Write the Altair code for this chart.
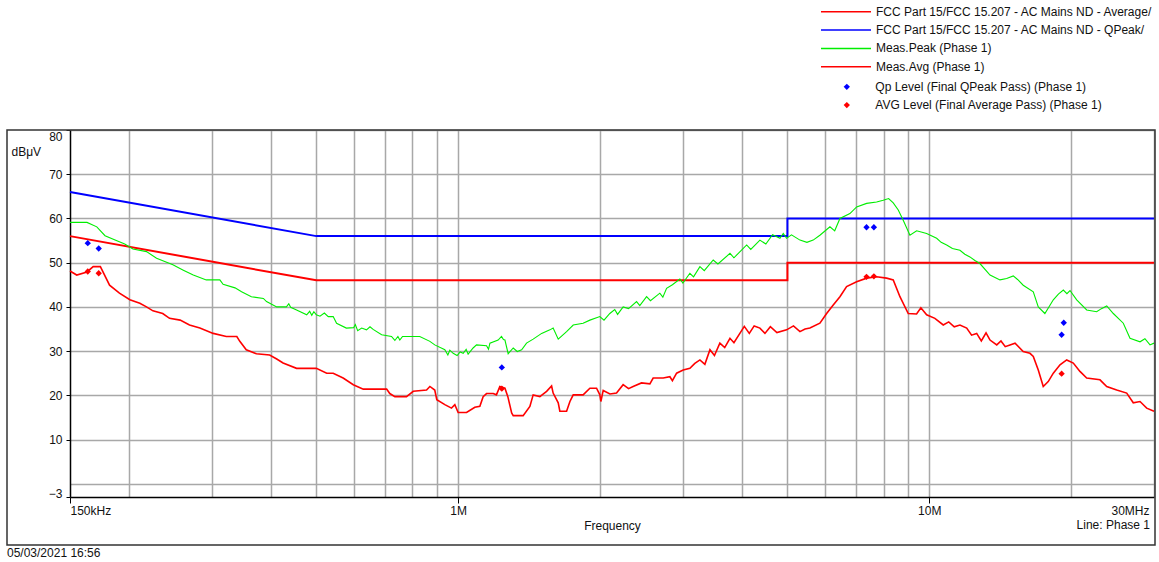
import altair as alt
import pandas as pd

# ---------------- data (frequency in MHz, level in dBuV) ----------------
avg_limit_f = [0.15, 0.5, 5.0, 5.0, 30.0]
avg_limit_v = [56, 46, 46, 50, 50]
qp_limit_f = [0.15, 0.5, 5.0, 5.0, 30.0]
qp_limit_v = [66, 56, 56, 60, 60]

peak_f = [0.150, 0.163, 0.171, 0.178, 0.187, 0.196, 0.204, 0.218, 0.229, 0.248, 0.261, 0.274,
          0.292, 0.312, 0.317, 0.336, 0.347, 0.364, 0.386, 0.392, 0.412, 0.432, 0.437, 0.441,
          0.454, 0.477, 0.484, 0.489, 0.494, 0.500, 0.509, 0.520, 0.530, 0.543, 0.552, 0.579,
          0.600, 0.605, 0.612, 0.624, 0.639, 0.650, 0.660, 0.688, 0.722, 0.734, 0.745, 0.752,
          0.762, 0.777, 0.829, 0.871, 0.892, 0.937, 0.951, 0.960, 0.976, 0.995, 1.010, 1.025,
          1.040, 1.050, 1.076, 1.094, 1.149, 1.160, 1.168, 1.216, 1.236, 1.248, 1.257, 1.277,
          1.309, 1.335, 1.364, 1.397, 1.443, 1.504, 1.566, 1.591, 1.631, 1.699, 1.755, 1.842,
          1.904, 1.999, 2.040, 2.099, 2.150, 2.180, 2.240, 2.300, 2.392, 2.430, 2.512, 2.560,
          2.680, 2.720, 2.770, 2.850, 2.956, 3.000, 3.104, 3.160, 3.260, 3.330, 3.479, 3.560,
          3.776, 3.850, 4.097, 4.180, 4.371, 4.500, 4.650, 4.820, 4.900, 4.980, 5.100, 5.316,
          5.500, 5.671, 5.860, 6.155, 6.300, 6.463, 6.786, 7.013, 7.364, 7.732, 7.986, 8.200,
          8.387, 8.595, 8.806, 9.100, 9.402, 9.874, 10.37, 10.60, 10.89, 11.20, 11.62, 11.90,
          12.20, 12.50, 12.81, 13.46, 14.13, 14.60, 15.08, 15.40, 15.83, 16.63, 17.04, 17.60,
          18.34, 18.80, 19.26, 19.60, 19.90, 20.56, 21.59, 22.67, 23.20, 23.81, 24.59, 25.82,
          26.68, 28.02, 28.70, 29.42, 30.00]
peak_v = [59.1, 59.1, 58.1, 56.1, 55.1, 54.2, 53.1, 52.5, 51.0, 49.5, 48.3, 47.2,
          46.1, 46.1, 45.1, 44.3, 43.4, 42.3, 41.9, 41.2, 40.0, 40.0, 40.7, 39.9,
          39.3, 38.2, 39.0, 38.1, 38.9, 38.2, 37.9, 38.6, 37.8, 37.8, 36.3, 35.2,
          35.3, 36.0, 34.6, 35.2, 34.8, 35.5, 34.9, 33.7, 33.3, 32.4, 33.3, 32.5,
          33.3, 33.3, 33.3, 32.2, 31.4, 30.3, 29.1, 30.2, 29.5, 29.0, 29.8, 29.5,
          30.4, 29.3, 30.7, 31.4, 31.2, 30.4, 31.8, 32.5, 33.3, 32.6, 32.5, 29.4,
          30.7, 29.9, 30.3, 31.8, 32.7, 34.0, 34.8, 35.2, 32.7, 34.4, 35.9, 36.3,
          37.0, 37.8, 37.0, 38.5, 39.4, 38.3, 40.0, 39.6, 41.2, 40.3, 42.3, 41.4,
          43.1, 42.2, 44.2, 45.0, 46.3, 45.4, 47.6, 46.8, 49.1, 48.2, 50.6, 49.7,
          52.1, 51.1, 54.0, 53.0, 55.1, 54.2, 56.3, 55.5, 56.6, 55.5, 56.3, 55.1,
          54.6, 55.1, 56.2, 58.1, 57.2, 60.0, 61.1, 62.6, 63.4, 63.7, 64.1, 64.5,
          63.5, 61.9, 59.6, 56.2, 57.2, 56.6, 55.5, 54.6, 54.0, 53.2, 52.8, 51.9,
          51.3, 50.5, 49.8, 47.2, 46.1, 46.4, 47.0, 46.2, 44.9, 43.4, 40.0, 38.5,
          41.6, 42.9, 43.8, 43.0, 43.7, 41.6, 39.3, 38.9, 39.6, 40.2, 38.5, 36.3,
          32.9, 32.1, 32.8, 31.4, 31.8]

avg_f = [0.150, 0.155, 0.163, 0.168, 0.174, 0.182, 0.191, 0.201, 0.211, 0.218, 0.225, 0.236,
         0.244, 0.257, 0.269, 0.283, 0.302, 0.322, 0.339, 0.344, 0.355, 0.373, 0.398, 0.412,
         0.425, 0.454, 0.500, 0.526, 0.543, 0.570, 0.599, 0.629, 0.705, 0.716, 0.734, 0.777,
         0.803, 0.857, 0.871, 0.892, 0.901, 0.937, 0.968, 0.984, 1.000, 1.042, 1.085, 1.112,
         1.130, 1.149, 1.187, 1.206, 1.226, 1.257, 1.275, 1.299, 1.309, 1.374, 1.420, 1.443,
         1.491, 1.541, 1.579, 1.591, 1.631, 1.644, 1.699, 1.727, 1.755, 1.842, 1.904, 1.967,
         1.999, 2.009, 2.032, 2.100, 2.169, 2.240, 2.300, 2.352, 2.450, 2.553, 2.594, 2.724,
         2.815, 2.850, 2.909, 3.004, 3.104, 3.180, 3.260, 3.340, 3.424, 3.500, 3.594, 3.680,
         3.776, 3.850, 3.963, 4.050, 4.150, 4.250, 4.371, 4.480, 4.600, 4.750, 4.980, 5.150,
         5.316, 5.450, 5.581, 5.860, 6.056, 6.255, 6.463, 6.677, 7.013, 7.364, 7.732, 8.119,
         8.387, 8.666, 9.025, 9.400, 9.600, 9.874, 10.28, 10.71, 11.00, 11.30, 11.62, 12.01,
         12.30, 12.61, 12.90, 13.20, 13.46, 13.91, 14.20, 14.50, 14.84, 15.21, 15.83, 16.36,
         16.63, 17.04, 17.46, 17.89, 18.34, 18.95, 19.58, 20.22, 20.89, 21.59, 23.04, 23.81,
         25.00, 26.25, 27.11, 28.02, 28.95, 30.00]
avg_v = [48.1, 47.2, 47.9, 49.1, 49.1, 44.9, 43.1, 41.6, 40.8, 40.0, 39.1, 38.5,
         37.4, 37.0, 35.9, 35.2, 34.0, 33.3, 33.3, 32.2, 30.3, 29.4, 29.1, 28.2,
         27.3, 26.1, 26.1, 25.0, 25.0, 23.9, 22.4, 21.4, 21.4, 20.4, 19.7, 19.7,
         20.9, 21.2, 22.0, 21.2, 19.0, 17.9, 17.1, 17.9, 16.1, 16.1, 17.3, 17.5,
         19.7, 20.4, 20.4, 20.1, 22.0, 21.6, 19.7, 16.0, 15.4, 15.4, 17.5, 20.1,
         19.7, 20.9, 22.1, 20.5, 18.3, 16.4, 16.4, 18.6, 20.1, 20.1, 21.6, 21.6,
         20.1, 18.6, 21.1, 20.3, 20.5, 22.4, 21.5, 22.0, 22.8, 22.6, 23.9, 23.9,
         24.2, 23.3, 25.0, 25.7, 26.1, 27.2, 28.0, 27.0, 30.3, 29.0, 31.8, 30.8,
         32.9, 31.9, 34.0, 35.6, 34.0, 35.7, 35.2, 34.0, 35.5, 34.2, 34.8, 35.7,
         34.4, 35.0, 35.2, 36.3, 38.5, 40.4, 42.3, 44.6, 45.7, 46.5, 46.8, 46.5,
         46.1, 42.3, 38.5, 38.4, 39.8, 38.2, 37.4, 35.9, 36.6, 35.5, 35.9, 35.2,
         33.6, 34.0, 32.3, 34.1, 32.5, 31.4, 32.3, 31.0, 31.4, 31.8, 29.9, 29.5,
         28.8, 25.7, 22.0, 23.1, 25.0, 26.9, 28.0, 27.3, 25.4, 23.9, 23.5, 22.0,
         21.2, 20.5, 18.3, 18.6, 17.1, 16.4]

qp_pts_f = [0.1636, 0.1726, 1.238, 7.36, 7.63, 19.3, 19.1]
qp_pts_v = [54.4, 53.2, 26.3, 58.0, 58.0, 36.4, 33.7]
av_pts_f = [0.1636, 0.1726, 1.238, 7.36, 7.63, 19.1]
av_pts_v = [48.0, 47.6, 21.5, 46.8, 46.9, 24.9]

line_names = ["FCC Part 15/FCC 15.207 - AC Mains ND - Average/",
              "FCC Part 15/FCC 15.207 - AC Mains ND - QPeak/",
              "Meas.Peak (Phase 1)",
              "Meas.Avg (Phase 1)"]
line_colors = ["#ff0000", "#0000ff", "#00ee00", "#ff0000"]
pt_names = ["Qp Level (Final QPeak Pass) (Phase 1)",
            "AVG Level (Final Average Pass) (Phase 1)"]
pt_colors = ["#0000ff", "#ff0000"]

grid_x = [0.15, 0.2, 0.3, 0.4, 0.5, 0.6, 0.7, 0.8, 0.9, 1, 2, 3, 4, 5, 6, 7, 8, 9, 10, 20, 30]
grid_y = [-3, 0, 10, 20, 30, 40, 50, 60, 70, 80]

# ---------------- tables ----------------
def series_df(fs, vs, name):
    return pd.DataFrame({"freq": fs, "level": vs, "series": name, "idx": list(range(len(fs)))})

limits_df = pd.concat([series_df(avg_limit_f, avg_limit_v, line_names[0]),
                       series_df(qp_limit_f, qp_limit_v, line_names[1])])
peak_df = series_df(peak_f, peak_v, line_names[2])
avg_df = series_df(avg_f, avg_v, line_names[3])
pts_df = pd.concat([
    pd.DataFrame({"freq": qp_pts_f, "level": qp_pts_v, "kind": pt_names[0]}),
    pd.DataFrame({"freq": av_pts_f, "level": av_pts_v, "kind": pt_names[1]}),
])

W, H = 1084, 367
FONT = "Liberation Sans"
GRID = "#a8a8a8"

x_axis = alt.Axis(
    values=grid_x,
    labelExpr="datum.value == 0.15 ? '150kHz' : datum.value == 1 ? '1M' : datum.value == 10 ? '10M' : datum.value == 30 ? '30MHz' : ''",
    labelFlush=True,
    labelOffset={"condition": {"test": "datum.value == 30", "value": -5}, "value": 0},
    tickSize=6, tickWidth=1,
    tickColor={"condition": {"test": "indexof([0.15, 1, 10], datum.value) >= 0", "value": "#000000"},
               "value": "transparent"},
    labelPadding=2, labelFont=FONT, labelFontSize=12, labelColor="#111111",
    grid=True, gridWidth=1.5,
    gridColor={"condition": {"test": "datum.value == 0.15", "value": "transparent"}, "value": GRID},
    domainColor="#000000", domainWidth=1.5,
    title="Frequency", titleFont=FONT, titleFontSize=12, titleFontWeight="normal",
    titleColor="#111111", titleBaseline="alphabetic", titleY=32,
)
y_axis = alt.Axis(
    values=grid_y,
    labelExpr="datum.value == 0 ? '' : datum.label",
    labelFlush=False,
    labelBaseline={"condition": {"test": "datum.value == 80", "value": "top"},
                   "value": "middle"},
    labelOffset={"condition": [{"test": "datum.value == -3", "value": -4},
                               {"test": "datum.value == 80", "value": 1.5}],
                 "value": 0},
    tickSize=4, tickWidth=1,
    tickColor={"condition": {"test": "datum.value == 0", "value": "transparent"}, "value": "#000000"},
    labelPadding=4, labelFont=FONT, labelFontSize=12, labelColor="#111111",
    grid=True, gridWidth=1.5,
    gridColor={"condition": {"test": "datum.value == -3", "value": "transparent"}, "value": GRID},
    domainColor="#000000", domainWidth=1.5,
    title="dBμV", titleAngle=0, titleX=-59, titleY=25, titleAlign="left",
    titleBaseline="alphabetic", titleFont=FONT, titleFontSize=12, titleFontWeight="normal",
    titleColor="#111111",
)

X = alt.X("freq:Q", scale=alt.Scale(type="log", domain=[0.15, 30], nice=False), axis=x_axis)
Y = alt.Y("level:Q", scale=alt.Scale(domain=[-3, 80], nice=False, zero=False), axis=y_axis)

color_enc = alt.Color(
    "series:N",
    scale=alt.Scale(domain=line_names, range=line_colors),
    legend=alt.Legend(title=None, orient="none", legendX=750, legendY=-126.2, padding=0,
                      symbolType="stroke", symbolSize=2500, symbolStrokeWidth=1.5,
                      labelOffset=4, clipHeight=16, rowPadding=2.3, labelLimit=500,
                      labelFont=FONT, labelFontSize=12, labelColor="#111111"),
)
fill_enc = alt.Fill(
    "kind:N",
    scale=alt.Scale(domain=pt_names, range=pt_colors),
    legend=alt.Legend(title=None, orient="none", legendX=770.8, legendY=-51.2, padding=0,
                      symbolType="diamond", symbolSize=40, symbolStrokeWidth=0,
                      labelOffset=22.5, clipHeight=16, rowPadding=2.3, labelLimit=500,
                      labelFont=FONT, labelFontSize=12, labelColor="#111111"),
)

limits = alt.Chart(limits_df).mark_line(strokeWidth=2).encode(
    x=X, y=Y, color=color_enc, detail="series:N", order="idx:Q")
peak = alt.Chart(peak_df).mark_line(strokeWidth=1.1).encode(
    x=X, y=Y, color=color_enc, order="idx:Q")
avg = alt.Chart(avg_df).mark_line(strokeWidth=1.6).encode(
    x=X, y=Y, color=color_enc, order="idx:Q")
pts = alt.Chart(pts_df).mark_point(shape="diamond", filled=True, size=40, opacity=1,
                                   strokeWidth=0).encode(x=X, y=Y, fill=fill_enc)

one = pd.DataFrame({"k": [0]})
frame = alt.Chart(one).mark_rect(filled=False, stroke="#333333", strokeWidth=1.5).encode(
    x=alt.value(-63), x2=alt.value(W + 1), y=alt.value(0), y2=alt.value(H + 48))
line_txt = alt.Chart(one).mark_text(align="right", baseline="alphabetic", font=FONT,
                                    fontSize=12, color="#111111").encode(
    x=alt.value(W - 4), y=alt.value(H + 31.5), text=alt.value("Line: Phase 1"))
date_txt = alt.Chart(one).mark_text(align="left", baseline="alphabetic", font=FONT,
                                    fontSize=12, color="#111111").encode(
    x=alt.value(-63), y=alt.value(H + 60), text=alt.value("05/03/2021 16:56"))

chart = alt.layer(limits, peak, avg, pts, frame, line_txt, date_txt).properties(
    width=W, height=H,
    padding={"left": 70, "top": 130, "right": 5, "bottom": 65},
    autosize=alt.AutoSizeParams(type="none"),
    background="white",
).configure_view(stroke=None)

chart.save("out.html", embed_options={"renderer": "svg", "actions": False})
